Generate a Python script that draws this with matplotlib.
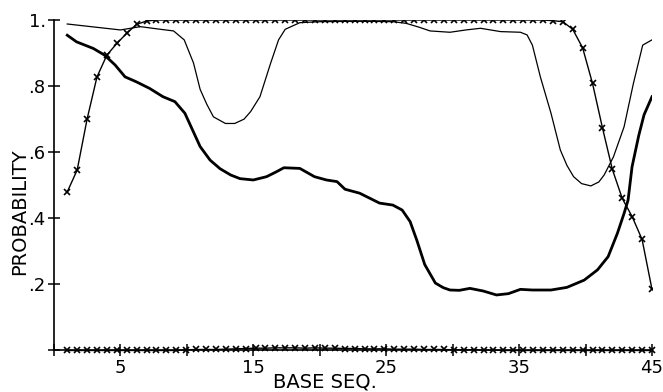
import matplotlib
matplotlib.use("Agg")
import matplotlib.pyplot as plt
import numpy as np

# thin smooth curve (no markers)
thin_x = [1, 3, 5, 6.5, 8, 9, 9.8, 10.5, 11, 11.5, 12, 12.9, 13.6, 14.3, 14.8, 15.5,
          16.3, 16.9, 17.4, 18.5, 20, 22, 24, 25.5, 26.5, 27.5, 28.3, 29.8, 31, 32.1,
          33.6, 35.1, 35.6, 36, 36.6, 37.4, 38.1, 38.6, 39.1, 39.7, 40.4, 41, 41.4,
          42.1, 42.9, 43.6, 44.3, 45]
thin_y = [.988, .979, .970, .980, .972, .967, .940, .870, .790, .745, .707, .687,
          .687, .700, .723, .768, .869, .940, .972, .992, .995, .996, .996, .995,
          .990, .978, .967, .963, .970, .975, .965, .963, .955, .924, .828, .718,
          .607, .560, .526, .505, .498, .510, .531, .586, .677, .808, .924, .940]

# thick smooth curve
thick_x = [1, 1.7, 2.96, 3.8, 4.6, 5.35, 6.2, 7.2, 8.2, 9.1, 9.85, 11, 11.75, 12.5,
           13.3, 14, 15, 16, 16.7, 17.3, 18.5, 19.6, 20.5, 21.3, 21.9, 23, 23.8,
           24.5, 25.5, 26.2, 26.8, 27.3, 27.9, 28.7, 29.3, 29.8, 30.5, 31.3, 32.3,
           33.3, 34.2, 35.1, 36, 37.4, 38.6, 39.9, 40.9, 41.7, 42.4, 42.9, 43.2,
           43.5, 44, 44.4, 45]
thick_y = [.954, .934, .914, .894, .864, .828, .813, .793, .768, .753, .718, .617,
           .576, .550, .531, .520, .516, .526, .540, .553, .551, .526, .516, .511,
           .488, .476, .460, .446, .440, .425, .390, .334, .260, .204, .190, .183,
           .182, .188, .180, .168, .172, .185, .183, .183, .191, .213, .244, .284,
           .355, .415, .455, .556, .650, .713, .768]

# two series drawn with x markers, 60 samples between base 1 and 45
marker_x = np.linspace(1, 45, 60)
upper_y = [.480, .546, .700, .828, .894, .929, .960, .987, .997, 1.0,
           1.0, 1.0, 1.0, 1.0, 1.0, 1.0, 1.0, 1.0, 1.0, 1.0,
           1.0, 1.0, 1.0, 1.0, 1.0, 1.0, 1.0, 1.0, 1.0, 1.0,
           1.0, 1.0, 1.0, 1.0, 1.0, 1.0, 1.0, 1.0, 1.0, 1.0,
           1.0, 1.0, 1.0, 1.0, 1.0, 1.0, 1.0, 1.0, 1.0, .998,
           .995, .972, .916, .808, .674, .548, .460, .405, .336, .185]
lower_y = [0, 0, 0, 0, 0, 0, 0, 0, 0, 0,
           0, 0, .002, .003, .003, .003, .004, .005, .006, .007,
           .007, .008, .008, .008, .007, .008, .007, .007, .006, .006,
           .005, .005, .005, .004, .004, .004, .003, .003, .003, .002,
           .002, .002, .001, .001, 0, 0, 0, 0, 0, 0,
           0, 0, 0, 0, 0, 0, 0, 0, 0, 0]

x_ticks = [0, 5, 10, 15, 20, 25, 30, 35, 40, 45]
x_labels = ["", "5", "", "15", "", "25", "", "35", "", "45"]
y_ticks = [0, .2, .4, .6, .8, 1.0]
y_labels = ["", ".2", ".4", ".6", ".8", "1."]

plt.rcParams["font.family"] = ["DejaVu Sans"]

fig = plt.figure(figsize=(6.63, 3.92), dpi=100)
ax = fig.add_axes([0.0814, 0.1059, 0.902, 0.843])

ax.plot(thin_x, thin_y, color="black", lw=0.9)
ax.plot(thick_x, thick_y, color="black", lw=2.0)
ax.plot(marker_x, upper_y, color="black", lw=1.0, marker="x", ms=4.5, mew=1.2)
ax.plot(marker_x, lower_y, color="black", lw=1.0, marker="x", ms=4.5, mew=1.2,
        clip_on=False)

ax.set_xlim(0, 45)
ax.set_ylim(0, 1)
for side in ("top", "right"):
    ax.spines[side].set_visible(False)
for side in ("left", "bottom"):
    ax.spines[side].set_linewidth(1.2)

ax.set_xticks(x_ticks)
ax.set_xticklabels(x_labels, fontsize=13)
ax.set_yticks(y_ticks)
ax.set_yticklabels(y_labels, fontsize=13)
ax.tick_params(axis="both", direction="inout", length=8, width=1.1, pad=2)

ax.set_xlabel("BASE SEQ.", fontsize=14)
ax.xaxis.set_label_coords(0.453, -0.068)
ax.set_ylabel("PROBABILITY", fontsize=14)
ax.yaxis.set_label_coords(-0.057, 0.42)
ax.yaxis.label.set_va("center")

fig.savefig("out.png", dpi=100)
